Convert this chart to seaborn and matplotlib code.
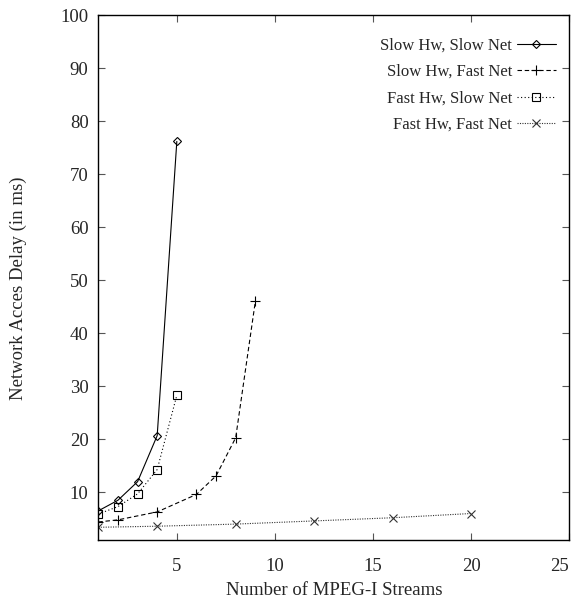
import matplotlib
matplotlib.use("Agg")
import matplotlib.pyplot as plt
import seaborn as sns
import pandas as pd

# Network access delay (ms) versus number of MPEG-I streams
slow_slow_x = [1, 2, 3, 4, 5]
slow_slow_y = [6.5, 8.5, 12.0, 20.7, 76.2]

slow_fast_x = [1, 2, 4, 6, 7, 8, 9]
slow_fast_y = [4.4, 4.8, 6.3, 9.6, 13.1, 20.3, 46.0]

fast_slow_x = [1, 2, 3, 4, 5]
fast_slow_y = [5.9, 7.3, 9.7, 14.3, 28.3]

fast_fast_x = [1, 4, 8, 12, 16, 20]
fast_fast_y = [3.4, 3.6, 4.0, 4.6, 5.2, 6.0]

labels = ["Slow Hw, Slow Net", "Slow Hw, Fast Net", "Fast Hw, Slow Net", "Fast Hw, Fast Net"]
x_ticks = [5, 10, 15, 20, 25]
y_ticks = [10, 20, 30, 40, 50, 60, 70, 80, 90, 100]

sns.set_style("ticks")
plt.rcParams["font.family"] = ["Liberation Serif", "DejaVu Serif"]
plt.rcParams["font.size"] = 12.5

fig = plt.figure(figsize=(5.77, 6.0), dpi=100)
ax = fig.add_axes([0.1704, 0.1, 0.9867 - 0.1704, 0.8745])

series = [
    (slow_slow_x, slow_slow_y, dict(marker="D", markersize=4.5, linestyle="-", color="black")),
    (slow_fast_x, slow_fast_y, dict(marker="+", markersize=7, linestyle=(0, (4, 2.5)), color="black")),
    (fast_slow_x, fast_slow_y, dict(marker="s", markersize=5.5, linestyle=(0, (1, 2.2)), color="black")),
    (fast_fast_x, fast_fast_y, dict(marker="x", markersize=5.5, linestyle=(0, (1, 1.2)), color="#333333")),
]

for (xs, ys, style), label in zip(series, labels):
    df = pd.DataFrame({"streams": xs, "delay": ys})
    sns.lineplot(data=df, x="streams", y="delay", ax=ax, label=label,
                 linewidth=0.8, markerfacecolor="none", markeredgewidth=0.8,
                 markeredgecolor=style["color"], **style)

ax.set_xlim(1, 25)
ax.set_ylim(1, 100)
ax.set_xticks(x_ticks)
ax.set_yticks(y_ticks)
ax.tick_params(direction="in", length=5, width=0.8, top=True, right=True,
               labelsize=13.5, color="#555555")
ax.tick_params(axis="x", pad=13)
ax.tick_params(axis="y", pad=7)
for side in ax.spines.values():
    side.set_linewidth(1.0)
    side.set_color("black")

# keep the last x tick label inside the figure
fig.canvas.draw()
last = ax.get_xticklabels()[-1]
last.set_horizontalalignment("right")
last.set_x(25.3)

ax.set_xlabel("Number of MPEG-I Streams", fontsize=13.5, labelpad=5)
ax.set_ylabel("Network Acces Delay (in ms)", fontsize=13.5)
ax.yaxis.set_label_coords(-0.152, 0.48)

leg = ax.legend(loc="upper right", frameon=False, markerfirst=False,
                fontsize=12, handlelength=2.3, handletextpad=0.3,
                labelspacing=0.62, borderaxespad=0.0, numpoints=1,
                bbox_to_anchor=(0.985, 0.97))

fig.savefig("out.png", dpi=100)
